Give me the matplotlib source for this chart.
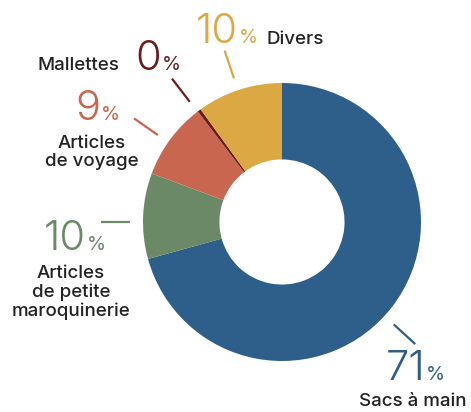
import matplotlib.pyplot as plt
import numpy as np

# categories clockwise from 12 o'clock
labels = ['Sacs à main', 'Articles\nde petite\nmaroquinerie', 'Articles\nde voyage', 'Mallettes', 'Divers']
values = [71, 10, 9, 0.4, 10]
colors = ['#2e5f8a', '#6b8966', '#c9664f', '#6b1d1d', '#dba844']

plt.rcParams['font.family'] = ['Inter', 'DejaVu Sans']

fig = plt.figure(figsize=(4.71, 4.12), dpi=100)
ax = fig.add_axes([0, 0, 1, 1])
R = 139.0  # outer radius in px, used to place things

wedges, _ = ax.pie(values, colors=colors, startangle=90, counterclock=False,
                   radius=1, wedgeprops=dict(width=0.55, linewidth=0))
ax.set_xlim(-282 / R, (471 - 282) / R)
ax.set_ylim((222 - 412) / R, 222 / R)
ax.set_aspect('equal')
ax.axis('off')

# leader line angles and label layout (px coords of the reference)
lead_ang = [-42.5, 180, 145, 127.5, 108.5]
num_pos = [(425, 380), (86, 250), (100, 120), (161, 70), (238, 43)]
txt_pos = [(413, 393, 'center', 'top'), (71, 265, 'center', 'top'),
           (92, 135, 'center', 'top'), (119, 70, 'right', 'baseline'),
           (266, 44, 'left', 'baseline')]

def d(px, py):
    return (px - 282) / R, (222 - py) / R

dark = '#222222'
for i, (lab, v, c) in enumerate(zip(labels, values, colors)):
    a = np.deg2rad(lead_ang[i])
    ax.plot([1.09 * np.cos(a), 1.30 * np.cos(a)], [1.09 * np.sin(a), 1.30 * np.sin(a)],
            color=c, lw=1.6, solid_capstyle='butt')
    nx, ny = d(*num_pos[i])
    ax.text(nx, ny, f'{round(v)}', color=c, fontsize=30, fontweight=300,
            ha='right', va='baseline')
    ax.text(nx + 1 / R, ny, '%', color=c, fontsize=14, fontweight='normal',
            ha='left', va='baseline')
    tx, ty = d(txt_pos[i][0], txt_pos[i][1])
    ax.text(tx, ty, lab, color=dark, fontsize=13.5, fontweight='medium', ha=txt_pos[i][2],
            va=txt_pos[i][3], multialignment='center', linespacing=1.1)

plt.savefig('out.png', dpi=100)
